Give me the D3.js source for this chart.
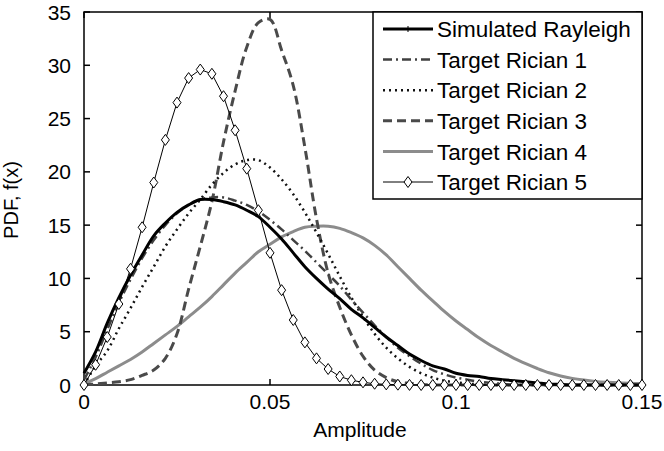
<!DOCTYPE html>
<html>
<head>
<meta charset="utf-8">
<script src="https://cdn.jsdelivr.net/npm/d3@7"></script>
<style>
  body { margin: 0; background: #fff; }
  svg text { font-family: "Liberation Sans", Arial, sans-serif; fill: #000; }
</style>
</head>
<body>
<svg id="chart"></svg>
<script>
// amplitude grid (shared by all series)
var amplitude = [0, 0.003125, 0.00625, 0.009375, 0.0125, 0.015625, 0.01875, 0.021875, 0.025, 0.028125,
  0.03125, 0.034375, 0.0375, 0.040625, 0.04375, 0.046875, 0.05, 0.053125, 0.05625, 0.059375,
  0.0625, 0.065625, 0.06875, 0.071875, 0.075, 0.078125, 0.08125, 0.084375, 0.0875, 0.090625,
  0.09375, 0.096875, 0.1, 0.103125, 0.10625, 0.109375, 0.1125, 0.115625, 0.11875, 0.121875,
  0.125, 0.128125, 0.13125, 0.134375, 0.1375, 0.140625, 0.14375, 0.146875, 0.15]

var simRayleigh = [1.1, 3.1, 5.8, 8.2, 10.3, 12.2, 14.0, 15.2, 16.2, 16.9,
  17.4, 17.4, 17.2, 16.9, 16.4, 15.8, 14.8, 13.7, 12.4, 11.1,
  10.0, 9.0, 8.1, 7.1, 6.3, 5.4, 4.5, 3.7, 2.9, 2.3,
  1.8, 1.5, 1.1, 0.9, 0.8, 0.6, 0.5, 0.4, 0.3, 0.2,
  0.1, 0.05, 0, 0, 0, 0, 0, 0, 0]

var rician1 = [0.5, 2.6, 5.2, 7.7, 9.9, 11.9, 13.6, 15.0, 16.1, 16.9,
  17.4, 17.6, 17.6, 17.3, 16.9, 16.3, 15.5, 14.6, 13.6, 12.6,
  11.5, 10.4, 9.3, 8.0, 6.8, 5.6, 4.5, 3.5, 2.7, 2.0,
  1.4, 1.0, 0.7, 0.5, 0.3, 0.2, 0.1, 0, 0, 0,
  0, 0, 0, 0, 0, 0, 0, 0, 0]

var rician2 = [0, 1.8, 3.2, 5.3, 7.2, 9.2, 11.1, 13.0, 14.6, 16.1,
  17.4, 18.8, 19.9, 20.7, 21.1, 21.1, 20.4, 19.3, 17.9, 16.2,
  14.3, 12.3, 10.2, 8.2, 6.4, 4.8, 3.5, 2.5, 1.7, 1.1,
  0.7, 0.4, 0.25, 0.12, 0.06, 0, 0, 0, 0, 0,
  0, 0, 0, 0, 0, 0, 0, 0, 0]

var rician3 = [0, 0.1, 0.2, 0.3, 0.5, 0.9, 1.4, 2.5, 4.8, 9.0,
  13.0, 17.2, 22.8, 27.6, 31.7, 34.0, 34.3, 31.4, 28.1, 22.3,
  15.6, 10.5, 7.3, 4.7, 2.7, 1.4, 0.7, 0.3, 0.15, 0.05,
  0, 0, 0, 0, 0, 0, 0, 0, 0, 0,
  0, 0, 0, 0, 0, 0, 0, 0, 0]

var rician4 = [0.1, 0.6, 1.2, 1.8, 2.4, 3.1, 3.9, 4.7, 5.5, 6.4,
  7.3, 8.3, 9.4, 10.5, 11.5, 12.5, 13.2, 13.9, 14.4, 14.8,
  14.9, 14.9, 14.7, 14.3, 13.8, 13.1, 12.2, 11.1, 10.0, 8.9,
  7.9, 6.9, 6.0, 5.2, 4.4, 3.7, 3.1, 2.5, 2.0, 1.55,
  1.15, 0.85, 0.62, 0.46, 0.34, 0.26, 0.2, 0.16, 0.14]

var rician5 = [0, 1.9, 4.5, 7.6, 10.9, 14.8, 19.0, 23.0, 26.5, 28.8,
  29.6, 29.2, 27.1, 23.9, 20.3, 16.4, 12.4, 8.9, 6.1, 4.0,
  2.5, 1.5, 0.8, 0.45, 0.25, 0.12, 0.06, 0.03, 0.01, 0,
  0, 0, 0, 0, 0, 0, 0, 0, 0, 0,
  0, 0, 0, 0, 0, 0, 0, 0, 0]

var seriesNames = ['Simulated Rayleigh', 'Target Rician 1', 'Target Rician 2', 'Target Rician 3', 'Target Rician 4', 'Target Rician 5']
var xTicks = [0, 0.05, 0.1, 0.15]
var yTicks = [0, 5, 10, 15, 20, 25, 30, 35]

var width = 664, height = 451
var plot = {left: 84, right: 642, top: 12, bottom: 385}

var svg = d3.select('#chart').attr('width', width).attr('height', height)

var x = d3.scaleLinear().domain([0, 0.15]).range([plot.left, plot.right])
var y = d3.scaleLinear().domain([0, 35]).range([plot.bottom, plot.top])

// line styles, same order as seriesNames
var styles = [
  {data: simRayleigh, color: '#000', width: 3, dash: null, curve: d3.curveCatmullRom},
  {data: rician1, color: '#404040', width: 2.5, dash: '9,4,2,4', curve: d3.curveCatmullRom},
  {data: rician2, color: '#111', width: 2.5, dash: '2,4', curve: d3.curveCatmullRom},
  {data: rician3, color: '#4a4a4a', width: 3, dash: '9,5', curve: d3.curveCatmullRom},
  {data: rician4, color: '#8c8c8c', width: 3, dash: null, curve: d3.curveCatmullRom},
  {data: rician5, color: '#000', width: 1, dash: null, curve: d3.curveLinear}
]

// frame
svg.append('rect')
  .attr('x', plot.left).attr('y', plot.top)
  .attr('width', plot.right - plot.left).attr('height', plot.bottom - plot.top)
  .attr('fill', 'none').attr('stroke', '#000').attr('stroke-width', 1.5)

// inward ticks on all four sides
xTicks.forEach(function(t) {
  svg.append('line').attr('x1', x(t)).attr('x2', x(t)).attr('y1', plot.bottom).attr('y2', plot.bottom - 6).attr('stroke', '#000').attr('stroke-width', 1.5)
  svg.append('line').attr('x1', x(t)).attr('x2', x(t)).attr('y1', plot.top).attr('y2', plot.top + 6).attr('stroke', '#000').attr('stroke-width', 1.5)
  svg.append('text')
    .text(String(t))
    .attr('x', x(t))
    .attr('y', 409)
    .attr('text-anchor', 'middle')
    .attr('font-size', '21px')
})

yTicks.forEach(function(t) {
  svg.append('line').attr('x1', plot.left).attr('x2', plot.left + 6).attr('y1', y(t)).attr('y2', y(t)).attr('stroke', '#000').attr('stroke-width', 1.5)
  svg.append('line').attr('x1', plot.right).attr('x2', plot.right - 6).attr('y1', y(t)).attr('y2', y(t)).attr('stroke', '#000').attr('stroke-width', 1.5)
  svg.append('text')
    .text(t)
    .attr('x', 71)
    .attr('y', y(t))
    .attr('dy', '0.36em')
    .attr('text-anchor', 'end')
    .attr('font-size', '21px')
})

svg.append('text')
  .text('Amplitude')
  .attr('x', 360)
  .attr('y', 437)
  .attr('text-anchor', 'middle')
  .attr('font-size', '21px')

svg.append('text')
  .text('PDF, f(x)')
  .attr('transform', 'translate(18,200) rotate(-90)')
  .attr('text-anchor', 'middle')
  .attr('font-size', '20px')

// curves, drawn back to front
var drawOrder = [4, 3, 2, 1, 0, 5]
drawOrder.forEach(function(i) {
  var s = styles[i]
  var line = d3.line()
    .x(function(d, j) { return x(amplitude[j]) })
    .y(function(d) { return y(d) })
    .curve(s.curve)
  svg.append('path')
    .datum(s.data)
    .attr('d', line)
    .attr('fill', 'none')
    .attr('stroke', s.color)
    .attr('stroke-width', s.width)
    .attr('stroke-dasharray', s.dash)
    .attr('stroke-linejoin', 'round')
})

var diamond = function(cx, cy) {
  return 'M' + cx + ',' + (cy - 5.5) + 'L' + (cx + 4) + ',' + cy + 'L' + cx + ',' + (cy + 5.5) + 'L' + (cx - 4) + ',' + cy + 'Z'
}

svg.selectAll('.marker5')
  .data(rician5)
  .enter().append('path')
  .attr('class', 'marker5')
  .attr('d', function(d, j) { return diamond(x(amplitude[j]), y(d)) })
  .attr('fill', '#fff')
  .attr('stroke', '#000')
  .attr('stroke-width', 1)

// legend
var legend = svg.append('g')
legend.append('rect')
  .attr('x', 373).attr('y', plot.top)
  .attr('width', plot.right - 373).attr('height', 187)
  .attr('fill', '#fff').attr('stroke', '#000').attr('stroke-width', 1.5)

seriesNames.forEach(function(name, i) {
  var s = styles[i]
  var ly = 29 + i * 30.6
  legend.append('line')
    .attr('x1', 383).attr('x2', 433)
    .attr('y1', ly).attr('y2', ly)
    .attr('stroke', s.color)
    .attr('stroke-width', s.width)
    .attr('stroke-dasharray', s.dash)
  if (i === 0) {
    legend.append('line').attr('x1', 408).attr('x2', 408).attr('y1', ly - 3).attr('y2', ly + 3).attr('stroke', '#000').attr('stroke-width', 1)
  }
  if (i === 5) {
    legend.append('path').attr('d', diamond(408, ly)).attr('fill', '#fff').attr('stroke', '#000')
  }
  legend.append('text')
    .text(name)
    .attr('x', 437)
    .attr('y', ly)
    .attr('dy', '0.36em')
    .attr('font-size', '22.5px')
})
</script>
</body>
</html>
